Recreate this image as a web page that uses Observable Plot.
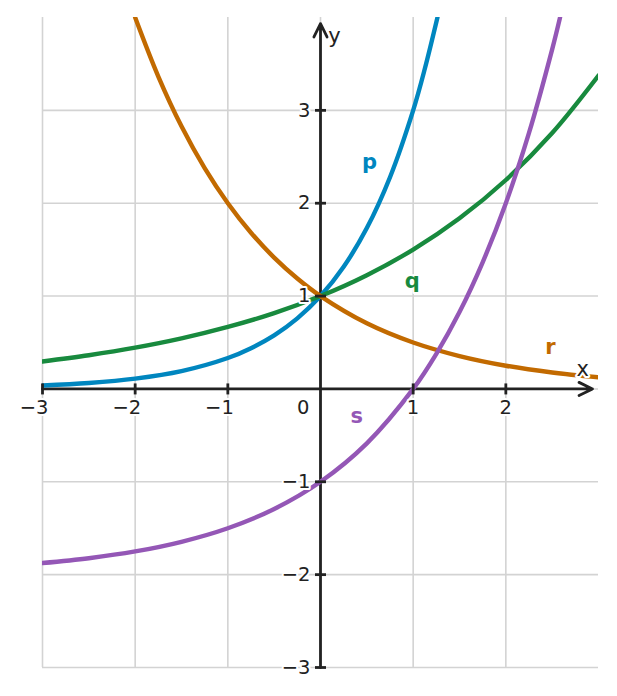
<!DOCTYPE html>
<html>
<head>
<meta charset="utf-8">
<script src="https://cdn.jsdelivr.net/npm/d3@7"></script>
<script src="https://cdn.jsdelivr.net/npm/@observablehq/plot@0.6"></script>
<style>
  html, body { margin: 0; padding: 0; background: #fff; }
  svg { display: block; }
</style>
</head>
<body>
<div id="chart"></div>
<script>
// Curve samples
const pX = [-3, -2.5, -2, -1.5, -1, -0.75, -0.5, -0.25, 0, 0.25, 0.5, 0.75, 1, 1.125, 1.262];
const pY = [0.037, 0.064, 0.111, 0.192, 0.333, 0.439, 0.577, 0.760, 1, 1.316, 1.732, 2.280, 3.0, 3.445, 4.0];

const qX = [-3, -2.5, -2, -1.5, -1, -0.5, 0, 0.5, 1, 1.5, 2, 2.5, 3];
const qY = [0.296, 0.363, 0.444, 0.544, 0.667, 0.816, 1, 1.225, 1.5, 1.837, 2.25, 2.756, 3.375];

const rX = [-2, -1.75, -1.5, -1.25, -1, -0.75, -0.5, -0.25, 0, 0.5, 1, 1.5, 2, 2.5, 3];
const rY = [4, 3.364, 2.828, 2.378, 2, 1.682, 1.414, 1.189, 1, 0.707, 0.5, 0.354, 0.25, 0.177, 0.125];

const sX = [-3, -2.5, -2, -1.5, -1, -0.5, 0, 0.5, 1, 1.25, 1.5, 1.75, 2, 2.25, 2.5, 2.585];
const sY = [-1.875, -1.823, -1.75, -1.646, -1.5, -1.293, -1, -0.586, 0, 0.378, 0.828, 1.364, 2, 2.757, 3.657, 4];

const seriesNames = ["p", "q", "r", "s"];
const seriesColors = ["#0086bf", "#188a3e", "#c26a00", "#9457b6"];

// Label anchors for each curve (data coords)
const labelX = [0.53, 0.99, 2.48, 0.39];
const labelY = [2.44, 1.16, 0.45, -0.29];

// Axes
const xTicks = [-3, -2, -1, 1, 2];
const yTicks = [-3, -2, -1, 1, 2, 3];
const xTickLabels = ["−3", "−2", "−1", "1", "2"];
const yTickLabels = ["−3", "−2", "−1", "1", "2", "3"];
const gridXs = [-3, -2, -1, 0, 1, 2];
const gridYs = [-3, -2, -1, 0, 1, 2, 3];
const xAxisExtent = [-3, 2.935];
const yAxisExtent = [-3, 3.935];
const axisNames = ["x", "y"];
const axisNameX = [2.83, 0.15];
const axisNameY = [0.215, 3.80];

const seriesXs = [pX, qX, rX, sX];
const seriesYs = [pY, qY, rY, sY];
const curves = seriesNames.map((name, i) => ({
  name, color: seriesColors[i],
  pts: seriesXs[i].map((x, j) => ({x, y: seriesYs[i][j]}))
}));

const axisInk = "#222";
const font = "DejaVu Sans";

const vTick = {draw(ctx) { ctx.moveTo(0, -5.5); ctx.lineTo(0, 5.5); }};
const hTick = {draw(ctx) { ctx.moveTo(-5.5, 0); ctx.lineTo(5.5, 0); }};

const marks = [
  Plot.ruleX(gridXs, {stroke: "#d3d3d3", strokeWidth: 1.6}),
  Plot.ruleY(gridYs, {stroke: "#d3d3d3", strokeWidth: 1.6}),
  Plot.arrow([0], {x1: xAxisExtent[0], x2: xAxisExtent[1], y1: 0, y2: 0, stroke: axisInk, strokeWidth: 2.8, headLength: 8, headAngle: 52}),
  Plot.arrow([0], {x1: 0, x2: 0, y1: yAxisExtent[0], y2: yAxisExtent[1], stroke: axisInk, strokeWidth: 2.8, headLength: 8, headAngle: 52}),
  ...curves.map(c => Plot.line(c.pts, {x: "x", y: "y", stroke: c.color, strokeWidth: 4.4, curve: "catmull-rom", clip: "frame", strokeLinecap: "round"})),
  Plot.dot(xTicks, {x: d => d, y: 0, symbol: vTick, stroke: axisInk, strokeWidth: 2.8, fill: "none"}),
  Plot.dot(yTicks, {x: 0, y: d => d, symbol: hTick, stroke: axisInk, strokeWidth: 2.8, fill: "none"}),
  Plot.text(xTicks, {x: d => d, y: 0, text: (d, i) => xTickLabels[i], textAnchor: "end", dx: 6, dy: 19, lineAnchor: "middle", fontSize: 19.5, fill: axisInk, stroke: "white", strokeWidth: 4, fontFamily: font}),
  Plot.text(yTicks, {x: 0, y: d => d, text: (d, i) => yTickLabels[i], textAnchor: "end", dx: -10, lineAnchor: "middle", fontSize: 19.5, fill: axisInk, stroke: "white", strokeWidth: 4, fontFamily: font}),
  Plot.text(["0"], {x: 0, y: 0, text: d => d, textAnchor: "end", dx: -11, dy: 19, lineAnchor: "middle", fontSize: 19.5, fill: axisInk, stroke: "white", strokeWidth: 4, fontFamily: font}),
  Plot.text(axisNames, {x: (d, i) => axisNameX[i], y: (d, i) => axisNameY[i], text: d => d, textAnchor: "middle", lineAnchor: "middle", fontSize: 21, fill: axisInk, stroke: "white", strokeWidth: 4, fontFamily: font}),
  Plot.text(seriesNames, {x: (d, i) => labelX[i], y: (d, i) => labelY[i], text: d => d, fill: (d, i) => seriesColors[i], textAnchor: "middle", lineAnchor: "middle", fontSize: 21, fontWeight: "bold", stroke: "white", strokeWidth: 4, fontFamily: font})
];

const chart = Plot.plot({
  width: 617,
  height: 696,
  marginLeft: 42,
  marginRight: 19,
  marginTop: 17,
  marginBottom: 29,
  x: {domain: [-3, 3], axis: null},
  y: {domain: [-3, 4], axis: null},
  style: {background: "#fff", fontFamily: font, overflow: "visible"},
  marks
});
document.getElementById("chart").appendChild(chart);
</script>
</body>
</html>
